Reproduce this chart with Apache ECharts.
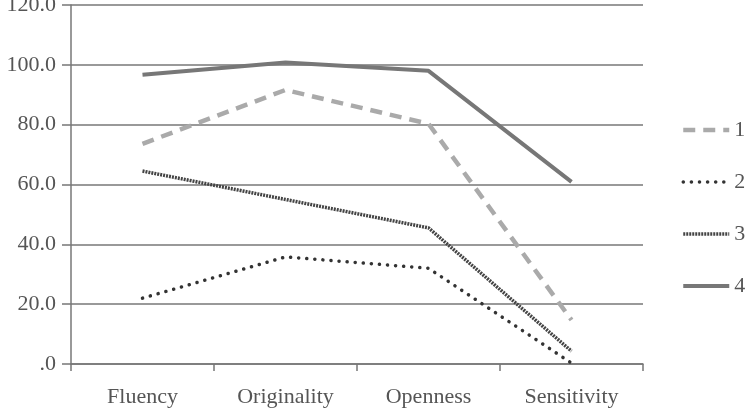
<!DOCTYPE html>
<html>
<head>
<meta charset="utf-8">
<script src="https://cdn.jsdelivr.net/npm/echarts@6/dist/echarts.min.js"></script>
<style>
  html, body { margin: 0; padding: 0; background: #fff; }
  #main { width: 753px; height: 408px; }
</style>
</head>
<body>
<div id="main"></div>
<script>
var categories = ['Fluency', 'Originality', 'Openness', 'Sensitivity'];
var series1 = [73.6, 91.6, 80.3, 14.7];
var series2 = [22.0, 35.8, 32.0, 0.3];
var series3 = [64.5, 55.0, 45.5, 4.3];
var series4 = [96.7, 100.8, 98.0, 60.9];
var seriesNames = ['1', '2', '3', '4'];

// line looks for each series (shared by the lines and the legend icons)
var styles = [
  { color: '#aaa', width: 4.5, type: [12, 8] },
  { color: '#333', width: 3.5, type: [0.1, 8], cap: 'round' },
  { color: '#444', width: 3.5, type: [2, 1] },
  { color: '#777', width: 4, type: 'solid' }
];
var dataSets = [series1, series2, series3, series4];

var myChart = echarts.init(document.getElementById('main'));
var fontFam = '"Liberation Serif", "DejaVu Serif", serif';

var seriesList = [];
var legendData = [];
for (var i = 0; i < seriesNames.length; i++) {
  seriesList.push({
    name: seriesNames[i], type: 'line', data: dataSets[i], symbol: 'none',
    lineStyle: styles[i],
    itemStyle: { color: styles[i].color }
  });
  legendData.push({ name: seriesNames[i], lineStyle: styles[i], itemStyle: { opacity: 0 } });
}

var option = {
  animation: false,
  backgroundColor: '#fff',
  grid: { left: 71, right: 110, top: 5, bottom: 44, outerBoundsMode: 'none', containLabel: false },
  legend: {
    orient: 'vertical',
    left: 676,
    top: 114,
    itemWidth: 46,
    itemHeight: 14,
    itemGap: 30,
    itemStyle: { opacity: 0 },
    textStyle: { fontFamily: fontFam, fontSize: 22, color: '#555' },
    data: legendData
  },
  xAxis: {
    type: 'category',
    data: categories,
    boundaryGap: true,
    axisLine: { lineStyle: { color: '#777', width: 1.5 } },
    axisTick: { show: true, length: 7, inside: false, lineStyle: { color: '#777', width: 1.5 } },
    axisLabel: { fontFamily: fontFam, fontSize: 22, color: '#555', margin: 22 }
  },
  yAxis: {
    type: 'value',
    min: 0, max: 120, interval: 20,
    axisLine: { show: true, lineStyle: { color: '#777', width: 1.5 } },
    axisTick: { show: true, length: 9, lineStyle: { color: '#777', width: 1.5 } },
    splitLine: { lineStyle: { color: '#777', width: 1.5 } },
    axisLabel: {
      fontFamily: fontFam, fontSize: 22, color: '#555', margin: 15,
      formatter: function (v) {
        var s = v.toFixed(1);
        return v === 0 ? s.substring(1) : s;
      }
    }
  },
  series: seriesList
};
myChart.setOption(option);
</script>
</body>
</html>
